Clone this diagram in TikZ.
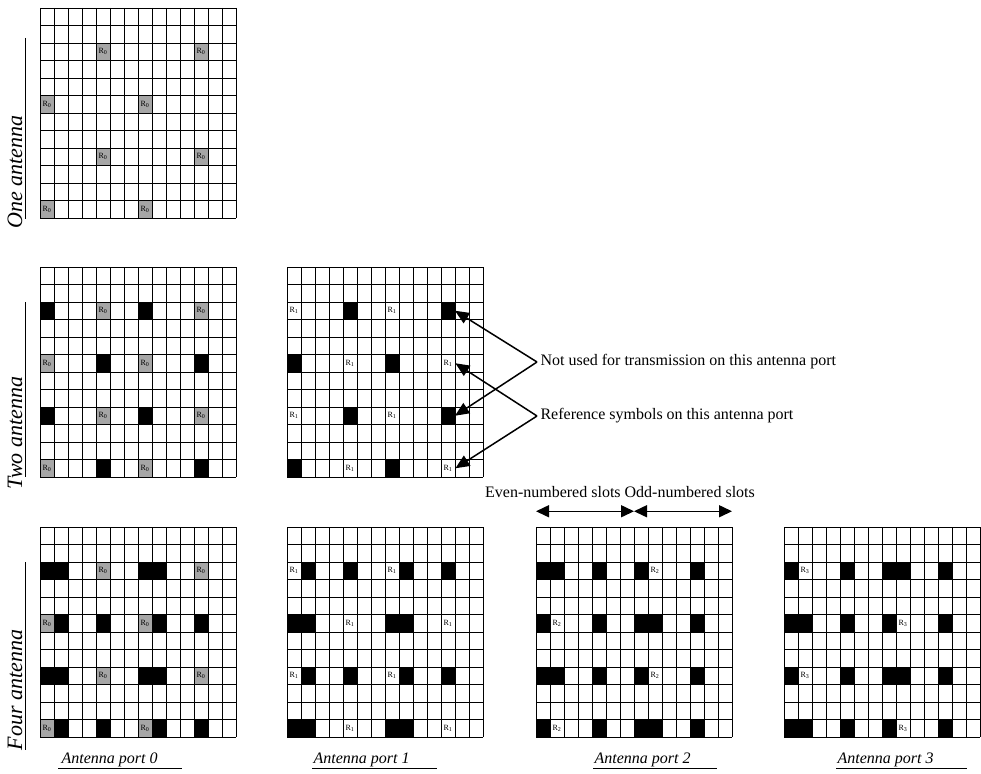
\documentclass[tikz,border=0pt]{standalone}
\usepackage{fontspec}
\setmainfont{Liberation Serif}
\usetikzlibrary{positioning, arrows.meta}

\begin{document}
\begin{tikzpicture}[
    x=1pt, y=-1pt,
    cellgrid/.style={x=14pt, y=17.5pt, yscale=-1, xstep=14pt, ystep=17.5pt},
    rzero/.style={
        draw, fill=black!35, line width=0.8pt,
        minimum width=14pt, minimum height=17.5pt, inner sep=0pt,
        font=\fontsize{8}{8}\selectfont
    },
    rport/.style={
        draw, fill=white, line width=0.8pt,
        minimum width=14pt, minimum height=17.5pt, inner sep=0pt,
        font=\fontsize{8}{8}\selectfont
    },
    blk/.style={fill=black},
    caption/.style={font=\fontsize{16}{18}\selectfont},
    side/.style={rotate=90, anchor=base, font=\fontsize{22}{24}\selectfont\itshape},
    port/.style={anchor=base west, font=\fontsize{16}{18}\selectfont\itshape},
    pointer/.style={line width=1.5pt, -{Triangle[length=14pt, width=12pt]}},
    span/.style={line width=1.5pt, {Triangle[length=13pt, width=12pt]}-{Triangle[length=13pt, width=12pt]}}
]
\useasboundingbox (0,0) rectangle (981,773);

% One antenna
\begin{scope}[shift={(40,8)}, cellgrid]
\draw[line width=0.6pt] (0,0) grid (14,12);
\path (4.5,2.5) node[rzero] (o-2-4) {R\textsubscript{0}} (11.5,2.5) node[rzero] (o-2-11) {R\textsubscript{0}};
\path (0.5,5.5) node[rzero] (o-5-0) {R\textsubscript{0}} (7.5,5.5) node[rzero] (o-5-7) {R\textsubscript{0}};
\path (4.5,8.5) node[rzero] (o-8-4) {R\textsubscript{0}} (11.5,8.5) node[rzero] (o-8-11) {R\textsubscript{0}};
\path (0.5,11.5) node[rzero] (o-11-0) {R\textsubscript{0}} (7.5,11.5) node[rzero] (o-11-7) {R\textsubscript{0}};
\end{scope}

% Two antenna - port 0
\begin{scope}[shift={(40,267)}, cellgrid]
\draw[line width=0.6pt] (0,0) grid (14,12);
\fill[blk] (0,2) rectangle ++(1,1) (7,2) rectangle ++(1,1) (0,8) rectangle ++(1,1) (7,8) rectangle ++(1,1);
\fill[blk] (4,5) rectangle ++(1,1) (11,5) rectangle ++(1,1) (4,11) rectangle ++(1,1) (11,11) rectangle ++(1,1);
\path (4.5,2.5) node[rzero] (ta-2-4) {R\textsubscript{0}} (11.5,2.5) node[rzero] (ta-2-11) {R\textsubscript{0}};
\path (0.5,5.5) node[rzero] (ta-5-0) {R\textsubscript{0}} (7.5,5.5) node[rzero] (ta-5-7) {R\textsubscript{0}};
\path (4.5,8.5) node[rzero] (ta-8-4) {R\textsubscript{0}} (11.5,8.5) node[rzero] (ta-8-11) {R\textsubscript{0}};
\path (0.5,11.5) node[rzero] (ta-11-0) {R\textsubscript{0}} (7.5,11.5) node[rzero] (ta-11-7) {R\textsubscript{0}};
\end{scope}

% Two antenna - port 1
\begin{scope}[shift={(287,267)}, cellgrid]
\draw[line width=0.6pt] (0,0) grid (14,12);
\fill[blk] (4,2) rectangle ++(1,1) (11,2) rectangle ++(1,1) (4,8) rectangle ++(1,1) (11,8) rectangle ++(1,1);
\fill[blk] (0,5) rectangle ++(1,1) (7,5) rectangle ++(1,1) (0,11) rectangle ++(1,1) (7,11) rectangle ++(1,1);
\path (0.5,2.5) node[rport] (tb-2-0) {R\textsubscript{1}} (7.5,2.5) node[rport] (tb-2-7) {R\textsubscript{1}};
\path (4.5,5.5) node[rport] (tb-5-4) {R\textsubscript{1}} (11.5,5.5) node[rport] (tb-5-11) {R\textsubscript{1}};
\path (0.5,8.5) node[rport] (tb-8-0) {R\textsubscript{1}} (7.5,8.5) node[rport] (tb-8-7) {R\textsubscript{1}};
\path (4.5,11.5) node[rport] (tb-11-4) {R\textsubscript{1}} (11.5,11.5) node[rport] (tb-11-11) {R\textsubscript{1}};
\coordinate (tb-2-11) at (12,2.5);
\coordinate (tb-8-11) at (12,8.5);
\end{scope}

% Four antenna - port 0
\begin{scope}[shift={(40,527)}, cellgrid]
\draw[line width=0.6pt] (0,0) grid (14,12);
\fill[blk] (0,2) rectangle ++(2,1) (7,2) rectangle ++(2,1) (0,8) rectangle ++(2,1) (7,8) rectangle ++(2,1);
\fill[blk] (1,5) rectangle ++(1,1) (4,5) rectangle ++(1,1) (8,5) rectangle ++(1,1) (11,5) rectangle ++(1,1);
\fill[blk] (1,11) rectangle ++(1,1) (4,11) rectangle ++(1,1) (8,11) rectangle ++(1,1) (11,11) rectangle ++(1,1);
\path (4.5,2.5) node[rzero] (fa-2-4) {R\textsubscript{0}} (11.5,2.5) node[rzero] (fa-2-11) {R\textsubscript{0}};
\path (0.5,5.5) node[rzero] (fa-5-0) {R\textsubscript{0}} (7.5,5.5) node[rzero] (fa-5-7) {R\textsubscript{0}};
\path (4.5,8.5) node[rzero] (fa-8-4) {R\textsubscript{0}} (11.5,8.5) node[rzero] (fa-8-11) {R\textsubscript{0}};
\path (0.5,11.5) node[rzero] (fa-11-0) {R\textsubscript{0}} (7.5,11.5) node[rzero] (fa-11-7) {R\textsubscript{0}};
\end{scope}

% Four antenna - port 1
\begin{scope}[shift={(287,527)}, cellgrid]
\draw[line width=0.6pt] (0,0) grid (14,12);
\fill[blk] (1,2) rectangle ++(1,1) (4,2) rectangle ++(1,1) (8,2) rectangle ++(1,1) (11,2) rectangle ++(1,1);
\fill[blk] (1,8) rectangle ++(1,1) (4,8) rectangle ++(1,1) (8,8) rectangle ++(1,1) (11,8) rectangle ++(1,1);
\fill[blk] (0,5) rectangle ++(2,1) (7,5) rectangle ++(2,1) (0,11) rectangle ++(2,1) (7,11) rectangle ++(2,1);
\path (0.5,2.5) node[rport] (fb-2-0) {R\textsubscript{1}} (7.5,2.5) node[rport] (fb-2-7) {R\textsubscript{1}};
\path (4.5,5.5) node[rport] (fb-5-4) {R\textsubscript{1}} (11.5,5.5) node[rport] (fb-5-11) {R\textsubscript{1}};
\path (0.5,8.5) node[rport] (fb-8-0) {R\textsubscript{1}} (7.5,8.5) node[rport] (fb-8-7) {R\textsubscript{1}};
\path (4.5,11.5) node[rport] (fb-11-4) {R\textsubscript{1}} (11.5,11.5) node[rport] (fb-11-11) {R\textsubscript{1}};
\end{scope}

% Four antenna - port 2
\begin{scope}[shift={(536,527)}, cellgrid]
\draw[line width=0.6pt] (0,0) grid (14,12);
\fill[blk] (0,2) rectangle ++(2,1) (4,2) rectangle ++(1,1) (7,2) rectangle ++(1,1) (11,2) rectangle ++(1,1);
\fill[blk] (0,8) rectangle ++(2,1) (4,8) rectangle ++(1,1) (7,8) rectangle ++(1,1) (11,8) rectangle ++(1,1);
\fill[blk] (0,5) rectangle ++(1,1) (4,5) rectangle ++(1,1) (7,5) rectangle ++(2,1) (11,5) rectangle ++(1,1);
\fill[blk] (0,11) rectangle ++(1,1) (4,11) rectangle ++(1,1) (7,11) rectangle ++(2,1) (11,11) rectangle ++(1,1);
\path (8.5,2.5) node[rport] (fc-2-8) {R\textsubscript{2}} (1.5,5.5) node[rport] (fc-5-1) {R\textsubscript{2}};
\path (8.5,8.5) node[rport] (fc-8-8) {R\textsubscript{2}} (1.5,11.5) node[rport] (fc-11-1) {R\textsubscript{2}};
\coordinate (slot0) at (0,-0.9);
\coordinate (slot1) at (7,-0.9);
\coordinate (slot2) at (14,-0.9);
\end{scope}

% Four antenna - port 3
\begin{scope}[shift={(784,527)}, cellgrid]
\draw[line width=0.6pt] (0,0) grid (14,12);
\fill[blk] (0,2) rectangle ++(1,1) (4,2) rectangle ++(1,1) (7,2) rectangle ++(2,1) (11,2) rectangle ++(1,1);
\fill[blk] (0,8) rectangle ++(1,1) (4,8) rectangle ++(1,1) (7,8) rectangle ++(2,1) (11,8) rectangle ++(1,1);
\fill[blk] (0,5) rectangle ++(2,1) (4,5) rectangle ++(1,1) (7,5) rectangle ++(1,1) (11,5) rectangle ++(1,1);
\fill[blk] (0,11) rectangle ++(2,1) (4,11) rectangle ++(1,1) (7,11) rectangle ++(1,1) (11,11) rectangle ++(1,1);
\path (1.5,2.5) node[rport] (fd-2-1) {R\textsubscript{3}} (8.5,5.5) node[rport] (fd-5-8) {R\textsubscript{3}};
\path (1.5,8.5) node[rport] (fd-8-1) {R\textsubscript{3}} (8.5,11.5) node[rport] (fd-11-8) {R\textsubscript{3}};
\end{scope}

% Row labels
\node[side] (one) at (22,172) {One antenna};
\draw (25,38) -- (25,219);
\node[side] (two) at (22,433) {Two antenna};
\draw (25,302) -- (25,477);
\node[side] (four) at (22,690) {Four antenna};
\draw (25,562) -- (25,750);

% Port labels
\node[port] (port0) at (58,763) {Antenna port 0};
\draw (58,768) -- (182,768);
\node[port] (port1) at (310,763) {Antenna port 1};
\draw (312,768) -- (437,768);
\node[port] (port2) at (591,763) {Antenna port 2};
\draw (593,768) -- (717,768);
\node[port] (port3) at (834,763) {Antenna port 3};
\draw (836,768) -- (967,768);

% Legend
\node[caption, anchor=west] (notused) at (537,362) {Not used for transmission on this antenna port};
\node[caption, anchor=west] (refsym) at (537,416) {Reference symbols on this antenna port};
\draw[pointer] (notused.west) -- (tb-2-11);
\draw[pointer] (notused.west) -- (tb-8-11);
\draw[pointer] (refsym.west) -- (tb-5-11.east);
\draw[pointer] (refsym.west) -- (tb-11-11.east);

% Slots
\node[caption] (slots) at (620,492) {Even-numbered slots Odd-numbered slots};
\draw[span] (slot0) -- (slot1);
\draw[span] (slot1) -- (slot2);

\end{tikzpicture}
\end{document}
